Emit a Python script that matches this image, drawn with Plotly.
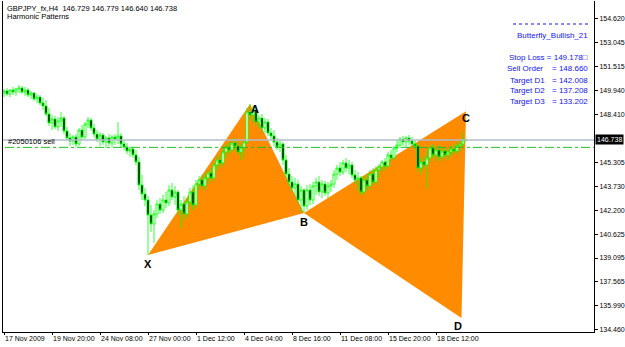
import plotly.graph_objects as go

# ---------------- data ----------------
opens = [149.78,149.91,149.71,149.97,149.84,150.04,150.10,149.84,149.97,149.65,
         149.78,149.39,149.52,149.13,148.94,148.42,147.84,148.10,147.58,147.97,
         148.16,147.32,146.87,146.67,146.93,146.48,147.38,146.93,147.77,148.03,
         147.51,147.12,146.80,147.06,146.61,146.87,146.54,146.93,146.80,147.00,
         146.48,146.28,146.02,146.15,145.77,145.31,143.82,143.24,142.85,141.88,
         141.30,141.95,142.59,142.20,142.85,142.66,143.50,143.05,143.37,142.20,
         142.59,141.95,142.72,143.37,142.53,143.89,144.15,143.76,144.28,144.60,
         144.28,145.12,145.44,145.25,145.96,146.28,146.09,146.54,146.35,145.96,
         146.22,146.61,148.55,148.36,148.68,147.90,148.16,147.51,147.90,147.19,
         147.00,146.61,146.28,146.48,145.44,144.53,144.02,143.63,143.89,142.85,
         143.50,142.46,143.50,142.85,143.76,144.02,143.37,143.89,143.31,143.76,
         143.89,144.53,144.92,144.66,145.25,144.92,145.12,144.47,144.15,144.28,
         143.37,144.15,143.76,144.53,144.02,144.79,144.99,145.31,145.05,145.77,
         145.57,146.22,146.41,146.80,146.61,146.87,146.67,146.48,146.35,144.92,
         145.31,145.12,145.57,146.22,145.77,146.09,145.64,146.02,145.77,145.96,
         146.15,146.02,146.35,146.48,146.729]
highs = [150.04,150.10,150.04,150.17,150.10,150.30,150.23,150.17,150.10,149.91,
         149.84,149.71,149.65,149.46,149.33,148.81,148.36,148.29,148.23,148.55,
         148.29,147.58,147.19,147.06,147.12,147.51,147.71,147.90,148.23,148.16,
         147.77,147.38,147.25,147.19,147.00,147.12,147.06,147.12,147.90,147.19,
         146.74,146.54,146.35,146.28,146.09,145.64,144.47,143.63,143.11,142.53,
         142.20,142.85,142.98,143.18,143.37,143.82,143.95,143.76,143.50,142.85,
         143.11,142.98,143.63,143.82,144.15,144.41,144.47,144.53,144.79,144.92,
         145.31,145.70,145.77,146.22,146.48,146.61,146.74,146.87,146.67,146.48,
         146.74,148.81,149.07,148.94,148.87,148.36,148.42,148.16,148.10,147.51,
         147.38,146.87,146.74,146.61,145.77,144.92,144.41,144.28,144.15,143.76,
         143.63,143.82,143.89,144.02,144.28,144.41,144.15,144.08,144.02,144.15,
         144.79,145.12,145.31,145.44,145.57,145.44,145.31,144.79,144.66,144.41,
         144.41,144.53,144.79,144.92,145.05,145.18,145.44,145.57,145.96,146.09,
         146.35,146.74,146.93,147.00,147.00,147.06,146.93,146.74,146.54,145.57,
         145.77,146.09,146.41,146.48,146.35,146.41,146.22,146.28,146.22,146.35,
         146.48,146.54,146.67,147.25,146.779]
lows = [149.52,149.59,149.52,149.65,149.59,149.78,149.71,149.59,149.52,149.39,
        149.26,149.13,149.00,148.68,148.29,147.64,147.38,147.45,147.32,147.58,
        147.12,146.74,146.35,146.41,146.28,146.35,146.74,146.80,147.51,147.32,
        146.93,146.61,146.35,146.41,146.22,146.35,146.28,146.41,146.48,146.28,
        146.09,145.83,145.64,145.57,145.12,143.50,142.85,142.46,139.29,140.78,
        140.07,141.69,141.95,142.01,142.33,142.46,142.85,142.53,141.88,141.04,
        141.56,141.69,142.46,142.20,142.33,143.50,143.63,143.50,143.89,144.02,
        144.15,144.79,144.92,145.05,145.57,145.83,145.96,146.09,145.77,145.44,
        145.57,146.48,148.03,147.90,147.64,147.51,147.25,147.19,147.00,146.74,
        146.35,146.09,145.96,145.12,144.28,143.76,143.37,143.11,142.59,142.07,
        142.01,142.20,142.53,142.59,143.18,143.11,142.98,143.11,142.98,143.37,
        143.63,144.15,144.41,144.47,144.66,144.53,144.28,143.89,143.50,143.18,
        143.18,143.50,143.50,143.89,143.82,144.28,144.66,144.79,144.92,145.31,
        145.44,145.96,146.22,146.35,146.28,146.41,146.22,146.09,144.66,144.53,
        144.79,143.63,145.31,145.57,145.31,145.44,145.38,145.57,145.44,145.64,
        145.77,145.83,145.96,146.35,146.640]
closes = [149.91,149.71,149.97,149.84,150.04,150.10,149.84,149.97,149.65,149.78,
          149.39,149.52,149.13,148.94,148.42,147.84,148.10,147.58,147.97,148.16,
          147.32,146.87,146.67,146.93,146.48,147.38,146.93,147.77,148.03,147.51,
          147.12,146.80,147.06,146.61,146.87,146.54,146.93,146.80,147.00,146.48,
          146.28,146.02,146.15,145.77,145.31,143.82,143.24,142.85,141.88,141.30,
          141.95,142.59,142.20,142.85,142.66,143.50,143.05,143.37,142.20,142.59,
          141.95,142.72,143.37,142.53,143.89,144.15,143.76,144.28,144.60,144.28,
          145.12,145.44,145.25,145.96,146.28,146.09,146.54,146.35,145.96,146.22,
          146.61,148.55,148.36,148.68,147.90,148.16,147.51,147.90,147.19,147.00,
          146.61,146.28,146.48,145.44,144.53,144.02,143.63,143.89,142.85,143.50,
          142.46,143.50,142.85,143.76,144.02,143.37,143.89,143.31,143.76,143.89,
          144.53,144.92,144.66,145.25,144.92,145.12,144.47,144.15,144.28,143.37,
          144.15,143.76,144.53,144.02,144.79,144.99,145.31,145.05,145.77,145.57,
          146.22,146.41,146.80,146.61,146.87,146.67,146.48,146.35,144.92,145.31,
          145.12,145.57,146.22,145.77,146.09,145.64,146.02,145.77,145.96,146.15,
          146.02,146.35,146.48,146.73,146.738]
bar_index = list(range(len(closes)))

x_tick_bars = [0, 16, 32, 48, 64, 80, 96, 112, 128, 144]
x_tick_labels = ["17 Nov 2009", "19 Nov 20:00", "24 Nov 08:00", "27 Nov 00:00",
                 "1 Dec 12:00", "4 Dec 04:00", "8 Dec 16:00", "11 Dec 08:00",
                 "15 Dec 20:00", "18 Dec 12:00"]
y_tick_values = [154.620, 153.045, 151.515, 149.940, 148.410, 145.305, 143.730,
                 142.200, 140.625, 139.095, 137.565, 135.990, 134.460]

pattern_names = ["X", "A", "B", "C", "D"]
pattern_bars = [48, 82, 100, 154, 152.5]
pattern_prices = [139.29, 149.07, 142.01, 148.60, 135.21]

bid_price = 146.738
order_price = 146.26
order_label = "#2050106 sell"

header_line1 = "GBPJPY_fx,H4  146.729 146.779 146.640 146.738"
header_line2 = "Harmonic Patterns"
panel_title = "Butterfly_Bullish_21"
panel_labels = ["Sell Order", "Target D1", "Target D2", "Target D3"]
panel_values = ["= 148.660", "= 142.008", "= 137.208", "= 133.202"]
stop_loss_text = "Stop Loss = 149.178\u25a1"

# ---------------- layout geometry ----------------
W, H = 625, 347
ML, MR, MT, MB = 3, 31, 1, 15
PW, PH = W - ML - MR, H - MT - MB
FONT = "Liberation Sans, Arial, sans-serif"
BLUE = "#1414f0"


def px(xp):
    return (xp - ML) / PW


def py(yp):
    return (H - MB - yp) / PH


fig = go.Figure()

fig.add_trace(go.Candlestick(
    x=bar_index, open=opens, high=highs, low=lows, close=closes,
    increasing=dict(line=dict(color="#00ff00", width=0.8), fillcolor="white"),
    decreasing=dict(line=dict(color="#00ff00", width=0.8), fillcolor="black"),
    whiskerwidth=0, showlegend=False, hoverinfo="skip"))

shapes = []
# orange harmonic triangles (XAB and BCD), drawn beneath the candles
for tri in ([0, 1, 2], [2, 3, 4]):
    path = "M " + " L ".join(f"{pattern_bars[k]},{pattern_prices[k]}" for k in tri) + " Z"
    shapes.append(dict(type="path", xref="x", yref="y", path=path, layer="below",
                       fillcolor="#ff8c00", line=dict(width=0)))
shapes += [
    dict(type="line", xref="paper", yref="y", x0=0, x1=1, y0=bid_price, y1=bid_price,
         line=dict(color="#b4bccb", width=1.5)),
    dict(type="line", xref="paper", yref="y", x0=px(5), x1=1, y0=order_price, y1=order_price,
         line=dict(color="#22c022", width=1, dash="dashdot")),
    dict(type="line", xref="paper", yref="paper", x0=px(513), x1=px(589), y0=py(24), y1=py(24),
         line=dict(color=BLUE, width=1, dash="dot")),
]

ann = []
ann.append(dict(text=header_line1, xref="paper", yref="paper", x=px(5), y=py(8),
                xanchor="left", yanchor="middle", showarrow=False,
                font=dict(family=FONT, size=7.5, color="black")))
ann.append(dict(text=header_line2, xref="paper", yref="paper", x=px(5), y=py(16.5),
                xanchor="left", yanchor="middle", showarrow=False,
                font=dict(family=FONT, size=7.5, color="black")))
ann.append(dict(text=order_label, xref="paper", yref="y", x=px(6), y=bid_price,
                yshift=-2, xanchor="left", yanchor="middle", showarrow=False,
                font=dict(family=FONT, size=7.5, color="black")))
ann.append(dict(text=panel_title, xref="paper", yref="paper", x=px(590), y=py(35),
                xanchor="right", yanchor="middle", showarrow=False,
                font=dict(family=FONT, size=8, color=BLUE)))
ann.append(dict(text=stop_loss_text, xref="paper", yref="paper", x=px(507), y=py(57.5),
                xanchor="left", yanchor="middle", showarrow=False,
                font=dict(family=FONT, size=8, color=BLUE)))
row_y = [69, 80.5, 91, 101.5]
row_x = [505, 508, 508, 508]
for lab, val, yy, xx in zip(panel_labels, panel_values, row_y, row_x):
    ann.append(dict(text=lab, xref="paper", yref="paper", x=px(xx), y=py(yy),
                    xanchor="left", yanchor="middle", showarrow=False,
                    font=dict(family=FONT, size=8, color=BLUE)))
    ann.append(dict(text=val, xref="paper", yref="paper", x=px(590), y=py(yy),
                    xanchor="right", yanchor="middle", showarrow=False,
                    font=dict(family=FONT, size=8, color=BLUE)))
# current price box
ann.append(dict(text=f"{bid_price:.3f}", xref="paper", yref="y", x=1, y=bid_price,
                xshift=1, xanchor="left", yanchor="middle", showarrow=False,
                bgcolor="black", borderpad=1,
                font=dict(family=FONT, size=7, color="white")))
# pattern letters
label_shift = {"X": (0, -9), "A": (5, -5.5), "B": (0, -9), "C": (0, -6.5), "D": (-3.5, -8)}
for name, b, p in zip(pattern_names, pattern_bars, pattern_prices):
    dx, dy = label_shift[name]
    ann.append(dict(text=f"<b>{name}</b>", x=b, y=p, xshift=dx, yshift=dy,
                    showarrow=False, xanchor="center", yanchor="middle",
                    font=dict(family=FONT, size=11, color="black")))

fig.update_layout(
    width=W, height=H, margin=dict(l=ML, r=MR, t=MT, b=MB),
    paper_bgcolor="white", plot_bgcolor="white", boxgap=0.0,
    showlegend=False, shapes=shapes, annotations=ann,
    xaxis=dict(range=[(ML - 4) / 3, (W - MR - 4) / 3], tickvals=x_tick_bars,
               ticktext=x_tick_labels, ticks="outside", ticklen=2, tickcolor="black",
               ticklabelposition="outside right", tickangle=0,
               tickfont=dict(family=FONT, size=7, color="black"),
               showgrid=False, zeroline=False, showline=True, linecolor="black",
               linewidth=1, rangeslider=dict(visible=False), fixedrange=True),
    yaxis=dict(range=[155.80 - 0.06474 * (H - MB), 155.80 - 0.06474 * MT], side="right",
               tickvals=y_tick_values, ticktext=[f"{v:.3f}" for v in y_tick_values],
               ticks="outside", ticklen=3, tickcolor="black",
               tickfont=dict(family=FONT, size=7, color="black"),
               showgrid=False, zeroline=False, showline=True, mirror=True,
               linecolor="black", linewidth=1, fixedrange=True),
)

fig.write_html("out.html", config={"displayModeBar": False})
